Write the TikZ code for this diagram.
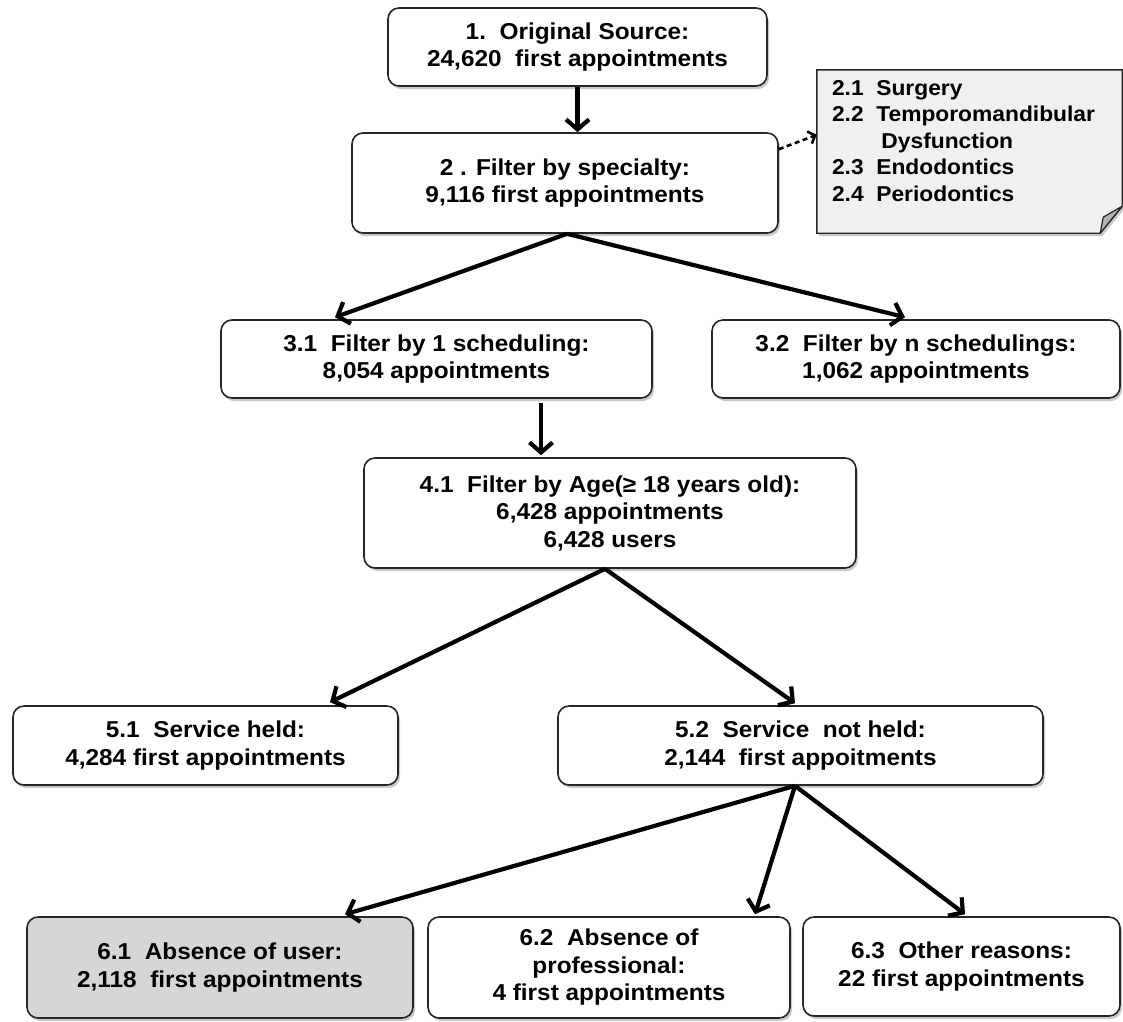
\documentclass[tikz,border=0pt]{standalone}
\usepackage{fontspec}
\setmainfont{Liberation Sans}[FakeStretch=1.06]
\usetikzlibrary{arrows.meta,calc,shadows}

\begin{document}
\begin{tikzpicture}[x=1pt,y=-1pt,
  font=\bfseries\fontsize{23}{27.5}\selectfont,
  stepbox/.style={draw=black!85, line width=1.6pt, rounded corners=11pt,
    fill=white, align=center, inner sep=0pt,
    drop shadow={shadow xshift=2pt, shadow yshift=-3pt, opacity=0.35, fill=black!60}},
  flow/.style={line width=4.2pt, -{Straight Barb[length=10pt,width=23pt,line width=4.2pt]}},
  link/.style={line width=2.6pt, dash pattern=on 5pt off 3.5pt,
    -{Straight Barb[length=6pt,width=13pt,line width=2.6pt]}}
]
\useasboundingbox (0,0) rectangle (1123,1021);

% boxes of the selection steps
\node[stepbox, minimum width=379pt, minimum height=78pt] (b1) at (577.5,47)
  {1.\ \ Original Source:\\24,620\ \ first appointments};
\node[stepbox, minimum width=426pt, minimum height=100pt] (b2) at (565,183)
  {2 . Filter by specialty:\\9,116 first appointments};
\node[stepbox, minimum width=431pt, minimum height=78pt] (b31) at (436.5,359)
  {3.1\ \ Filter by 1 scheduling:\\8,054 appointments};
\node[stepbox, minimum width=408pt, minimum height=78pt] (b32) at (916,359)
  {3.2\ \ Filter by n schedulings:\\1,062 appointments};
\node[stepbox, minimum width=492pt, minimum height=110pt] (b41) at (610,513)
  {4.1\ \ Filter by Age(≥ 18 years old):\\6,428 appointments\\6,428 users};
\node[stepbox, minimum width=385pt, minimum height=79pt] (b51) at (205.5,745.5)
  {5.1\ \ Service held:\\4,284 first appointments};
\node[stepbox, minimum width=485pt, minimum height=79pt] (b52) at (800.5,745.5)
  {5.2\ \ Service\ \ not held:\\2,144\ \ first appoitments};
\node[stepbox, fill=black!16, minimum width=386pt, minimum height=101pt] (b61) at (220,967.5)
  {6.1\ \ Absence of user:\\2,118\ \ first appointments};
\node[stepbox, minimum width=362pt, minimum height=101pt] (b62) at (609,967.5)
  {6.2\ \ Absence of\\professional:\\4 first appointments};
\node[stepbox, minimum width=317pt, minimum height=99pt] (b63) at (961.5,966.5)
  {6.3\ \ Other reasons:\\22 first appointments};

% note with the specialties, folded lower right corner
\node[minimum width=305pt, minimum height=163pt, inner sep=0pt] (note) at (969.5,151.5) {};
\path[draw=black!85, line width=1.4pt, fill=black!6,
      drop shadow={shadow xshift=2pt, shadow yshift=-3pt, opacity=0.35, fill=black!60}]
  (note.north west) -- (note.north east) -- ($(note.south east)+(0,-27)$)
  -- ($(note.south east)+(-22,0)$) -- (note.south west) -- cycle;
\path[draw=black!85, line width=1.2pt, fill=black!30, line join=round]
  ($(note.south east)+(0,-27)$) -- ($(note.south east)+(-22,0)$)
  -- ($(note.south east)+(-19,-16)$) -- cycle;
\node[anchor=north west, align=left, inner sep=0pt,
      font=\bfseries\fontsize{21.5}{26.5}\selectfont] (notetext) at ($(note.north west)+(15,10)$)
  {2.1\ \ Surgery\\2.2\ \ Temporomandibular\\\hspace*{2.3em}Dysfunction\\2.3\ \ Endodontics\\2.4\ \ Periodontics};

% connectors
\draw[flow] (b1.south) -- (b1.south |- b2.north);
\draw[flow] ($(b2.south)+(2,0)$) -- ($(b31.north)+(-101.5,-2)$);
\draw[flow] ($(b2.south)+(2,0)$) -- ($(b32.north)+(-11,-2)$);
\draw[flow] ($(b31.south)+(104.5,4)$) -- ($(b41.north)+(-69,-2)$);
\draw[flow] ($(b41.south)+(-5,0)$) -- ($(b51.north)+(124.5,-3)$);
\draw[flow] ($(b41.south)+(-5,0)$) -- ($(b52.north)+(-5.5,-2)$);
\draw[flow] ($(b52.south)+(-5.5,0)$) -- ($(b61.north)+(125,-2)$);
\draw[flow] ($(b52.south)+(-5.5,0)$) -- ($(b62.north)+(146,-2)$);
\draw[flow] ($(b52.south)+(-5.5,0)$) -- ($(b63.north)+(3.5,-2)$);
\draw[link] ($(b2.north east)+(0,17)$) -- ($(note.north west)+(0,65)$);
\end{tikzpicture}
\end{document}
